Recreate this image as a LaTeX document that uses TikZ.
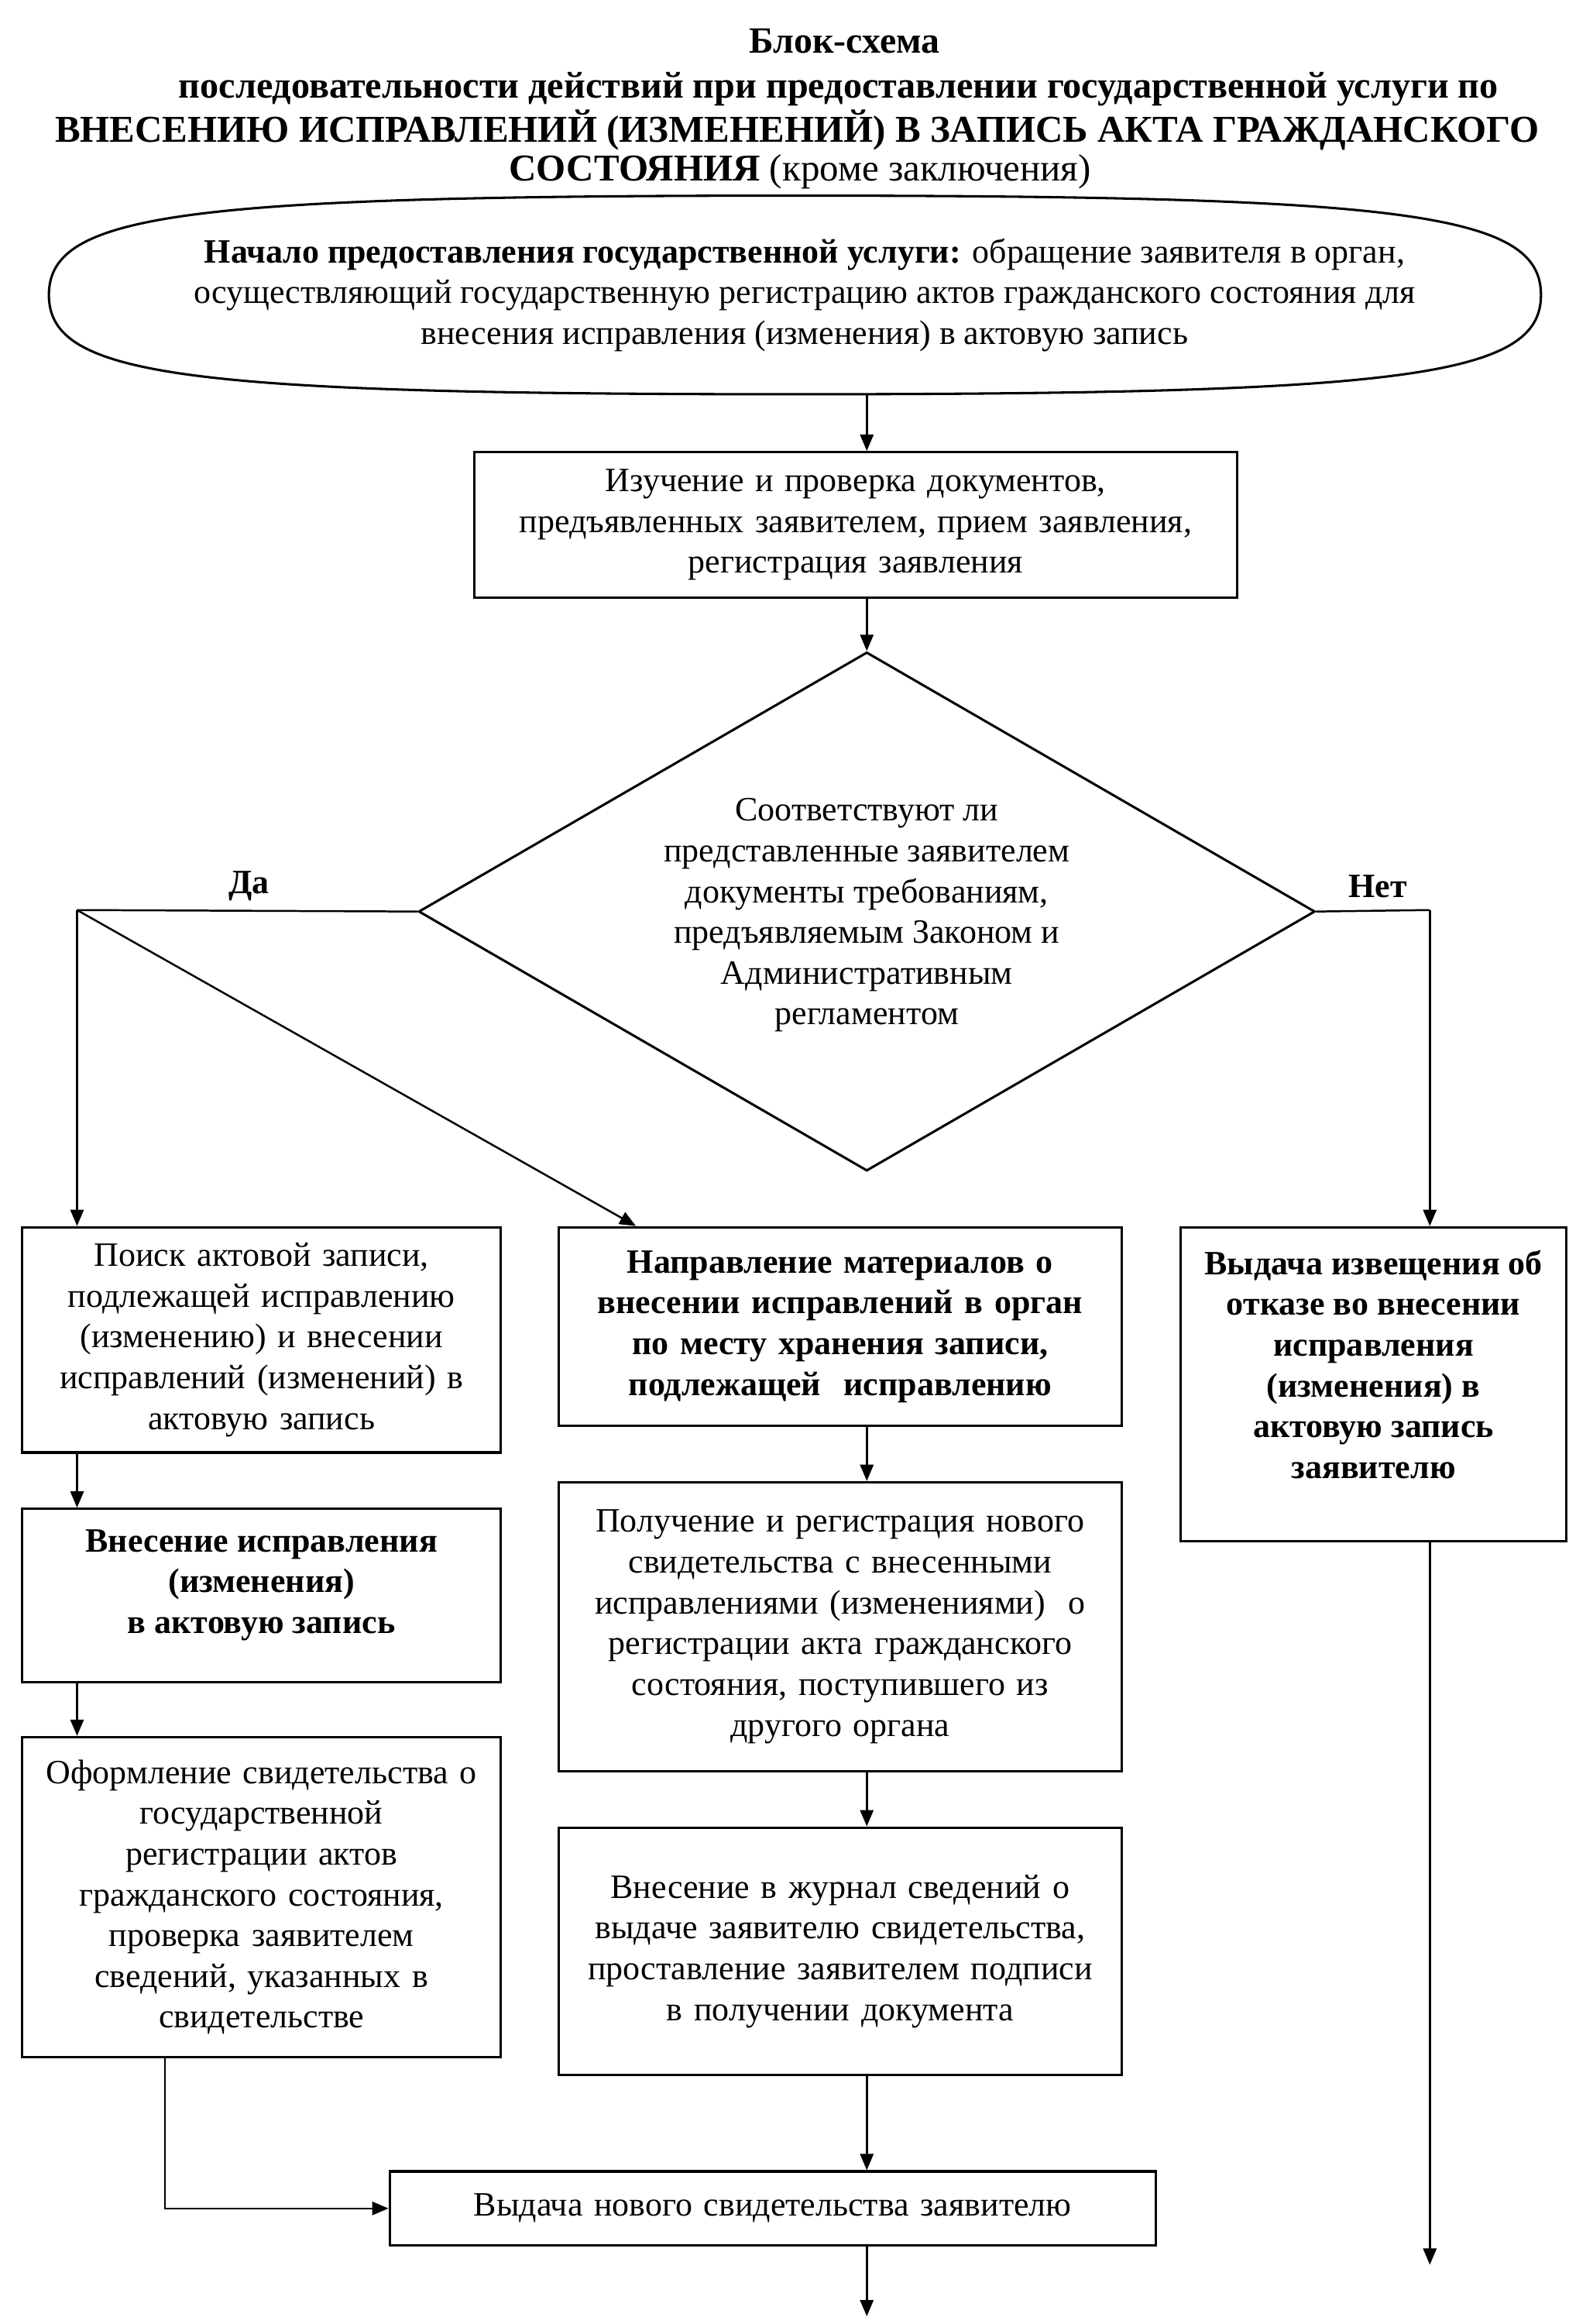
\documentclass[tikz,border=0pt]{standalone}
\usepackage{fontspec}
\setmainfont{Liberation Serif}
\usetikzlibrary{shapes.geometric,arrows.meta,calc}
\newcommand\bodyfs{\fontsize{23}{27.5}\selectfont}
\begin{document}
\begin{tikzpicture}[x=1pt,y=-1pt,
  box/.style={draw,line width=1.6pt,rectangle,align=center,inner sep=0pt,font=\bodyfs},
  txt/.style={align=center,inner sep=0pt,font=\bodyfs},
  arr/.style={line width=1.3pt,-{Triangle[length=11pt,width=9pt]}},
  ln/.style={line width=1.3pt},
  outline/.style={line width=1.6pt},
]
\useasboundingbox (0,0) rectangle (1075,1568);

% title
\node[txt,font=\fontsize{25}{28}\selectfont\bfseries] (t1) at (570,28) {Блок-схема};
\node[txt,font=\fontsize{25.2}{28}\selectfont\bfseries] (t2) at (566,60) {последовательности действий при предоставлении государственной услуги по};
\node[txt,font=\fontsize{25.6}{30}\selectfont\bfseries] (t3) at (538,88) {ВНЕСЕНИЮ ИСПРАВЛЕНИЙ (ИЗМЕНЕНИЙ) В ЗАПИСЬ АКТА ГРАЖДАНСКОГО};
\node[txt,font=\fontsize{25.6}{30}\selectfont] (t4) at (540,116) {\textbf{СОСТОЯНИЯ} (кроме заключения)};

% start terminal (full oval)
\node[rectangle,minimum width=1007,minimum height=134,inner sep=0pt] (ell) at (536.5,199) {};
\draw[outline] (33,199) .. controls (33,144) and (123.5,132) .. (536.5,132)
  .. controls (949.5,132) and (1040,144) .. (1040,199)
  .. controls (1040,254) and (949.5,266) .. (536.5,266)
  .. controls (123.5,266) and (33,254) .. (33,199) -- cycle;
\node[txt] (ellt) at (543,199) {\textbf{Начало предоставления государственной услуги:} обращение заявителя в орган,\\
осуществляющий государственную регистрацию актов гражданского состояния для\\
внесения исправления (изменения) в актовую запись};

\node[box,minimum width=515,minimum height=98,text width=505] (b2) at (577.5,354) {Изучение и проверка документов,\\ предъявленных заявителем, прием заявления,\\ регистрация заявления};

% decision
\node[diamond,draw,line width=1.6pt,minimum width=605,minimum height=350,inner sep=0pt] (dia) at (585,615) {};
\node[txt] (diat) at (585,617.5) {Соответствуют ли\\ представленные заявителем\\ документы требованиям,\\ предъявляемым Законом и\\ Административным\\ регламентом};

\node[txt,font=\bodyfs\bfseries] (yes) at (168,598) {Да};
\node[txt,font=\bodyfs\bfseries] (no) at (930,598) {Нет};

% row of boxes
\node[box,minimum width=323,minimum height=152,text width=313] (b3) at (176.5,904) {Поиск актовой записи,\\ подлежащей исправлению\\ (изменению) и внесении\\ исправлений (изменений) в\\ актовую запись};
\node[box,minimum width=380,minimum height=134,text width=370,font=\bodyfs\bfseries] (b4) at (567,895) {Направление материалов о\\ внесении исправлений в орган\\ по месту хранения записи,\\ подлежащей\ \ исправлению};
\node[box,minimum width=260,minimum height=212] (b5) at (927,934) {};
\node[txt,font=\bodyfs\bfseries] (b5t) at (927,920.5) {Выдача извещения об\\ отказе во внесении\\ исправления\\ (изменения) в\\ актовую запись\\ заявителю};

\node[box,minimum width=323,minimum height=117] (b6) at (176.5,1076.5) {};
\node[txt,font=\bodyfs\bfseries] (b6t) at (176.5,1069.5) {Внесение исправления\\ (изменения)\\ в актовую запись};

\node[box,minimum width=323,minimum height=216,text width=313] (b7) at (176.5,1280) {Оформление свидетельства о\\ государственной\\ регистрации актов\\ гражданского состояния,\\ проверка заявителем\\ сведений, указанных в\\ свидетельстве};

\node[box,minimum width=380,minimum height=195,text width=370] (b8) at (567,1097.5) {Получение и регистрация нового\\ свидетельства с внесенными\\ исправлениями (изменениями)\ \ о\\ регистрации акта гражданского\\ состояния, поступившего из\\ другого органа};

\node[box,minimum width=380,minimum height=167,text width=370] (b9) at (567,1316.5) {Внесение в журнал сведений о\\ выдаче заявителю свидетельства,\\ проставление заявителем подписи\\ в получении документа};

\node[box,minimum width=517,minimum height=50,text width=507] (b10) at (521.5,1490) {Выдача нового свидетельства заявителю};

% connector helper coordinates
\coordinate (yc) at (52,614);
\coordinate (nc) at (965,614);
\coordinate (b4in) at ($(b4.north west)+(53,0)$);
\coordinate (b7out) at ($(b7.south west)+(97,0)$);
\coordinate (endR) at (965,1528);
\coordinate (endM) at ($(b10.south -| dia.north)+(0,47)$);

% connectors
\draw[arr] (ell.south -| dia.north) -- (b2.north -| dia.north);
\draw[arr] (b2.south -| dia.north) -- (dia.north);
\draw[ln] (dia.west) -- (yc);
\draw[arr] (yc) -- (yc |- b3.north);
\draw[arr] (yc) -- (b4in);
\draw[ln] (dia.east) -- (nc);
\draw[arr] (nc) -- (nc |- b5.north);
\draw[arr] (yc |- b3.south) -- (yc |- b6.north);
\draw[arr] (yc |- b6.south) -- (yc |- b7.north);
\draw[arr] (dia.north |- b4.south) -- (dia.north |- b8.north);
\draw[arr] (dia.north |- b8.south) -- (dia.north |- b9.north);
\draw[arr] (dia.north |- b9.south) -- (dia.north |- b10.north);
\draw[arr] (b7out) |- (b10.west);
\draw[arr] (dia.north |- b10.south) -- (endM);
\draw[arr] (nc |- b5.south) -- (endR);
\end{tikzpicture}
\end{document}
